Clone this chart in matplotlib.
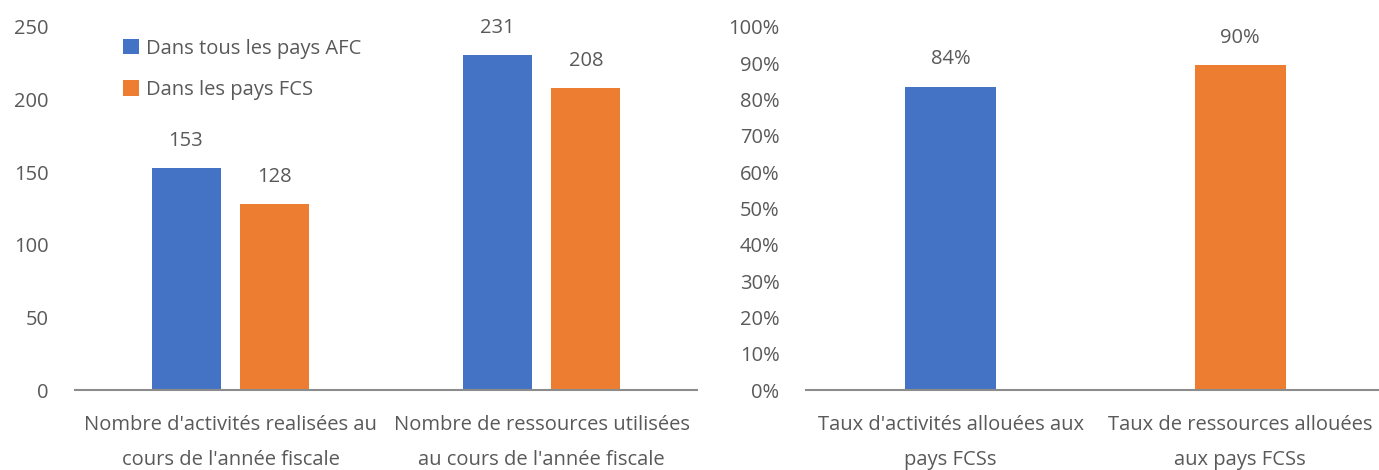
import matplotlib
matplotlib.use("Agg")
import matplotlib.pyplot as plt
import numpy as np
from matplotlib.ticker import PercentFormatter

plt.rcParams['font.family'] = ['Open Sans', 'DejaVu Sans']

left_categories = ["Nombre d'activités realisées au\ncours de l'année fiscale",
                   "Nombre de ressources utilisées\nau cours de l'année fiscale"]
series_names = ["Dans tous les pays AFC", "Dans les pays FCS"]
afc_values = [153, 231]
fcs_values = [128, 208]

right_categories = ["Taux d'activités allouées aux\npays FCSs",
                    "Taux de ressources allouées\naux pays FCSs"]
right_values = [0.836, 0.895]
right_labels = ["84%", "90%"]

blue = "#4472C4"
orange = "#ED7D31"
txt = "#595959"
axc = "#8C8C8C"
fs = 14.5

W, H = 1379, 470
fig = plt.figure(figsize=(W / 100, H / 100), dpi=100)

def style(ax):
    for s in ["top", "right", "left"]:
        ax.spines[s].set_visible(False)
    ax.spines["bottom"].set_color(axc)
    ax.spines["bottom"].set_linewidth(1.5)
    ax.tick_params(axis="both", length=0, labelsize=fs, colors=txt)
    ax.tick_params(axis="x", pad=18)
    ax.tick_params(axis="y", pad=19)

y0, y1 = 390, 27
ax1 = fig.add_axes([75 / W, (H - y0) / H, (697 - 75) / W, (y0 - y1) / H])
x = np.arange(len(left_categories))
bw = 0.222
off = 0.143
b1 = ax1.bar(x - off, afc_values, bw, color=blue, label=series_names[0])
b2 = ax1.bar(x + off, fcs_values, bw, color=orange, label=series_names[1])
for bars in (b1, b2):
    for r in bars:
        ax1.text(r.get_x() + r.get_width() / 2, r.get_height() + 18.5, f"{int(r.get_height())}",
                 ha="center", va="center", fontsize=fs, color=txt)
ax1.set_xlim(-0.5, 1.5)
ax1.set_ylim(0, 250)
ax1.set_yticks(np.arange(0, 251, 50))
ax1.set_xticks(x)
ax1.set_xticklabels(left_categories, linespacing=2.0)
style(ax1)
leg = ax1.legend(loc="upper left", bbox_to_anchor=(0.0635, 0.99), frameon=False,
                 fontsize=fs, labelcolor=txt, handlelength=0.8, handleheight=0.8,
                 handletextpad=0.35, labelspacing=1.05, borderaxespad=0.0)

ax2 = fig.add_axes([806 / W, (H - y0) / H, (1385 - 806) / W, (y0 - y1) / H])
xr = np.arange(len(right_categories))
rb = ax2.bar(xr, right_values, 0.315, color=[blue, orange])
for r, lab in zip(rb, right_labels):
    ax2.text(r.get_x() + r.get_width() / 2, r.get_height() + 0.075, lab,
             ha="center", va="center", fontsize=fs, color=txt)
ax2.set_xlim(-0.5, 1.5)
ax2.set_ylim(0, 1.0)
ax2.set_yticks(np.arange(0, 1.01, 0.1))
ax2.yaxis.set_major_formatter(PercentFormatter(1.0, decimals=0))
ax2.set_xticks(xr)
ax2.set_xticklabels(right_categories, linespacing=2.0)
style(ax2)

fig.savefig("out.png", dpi=100)
